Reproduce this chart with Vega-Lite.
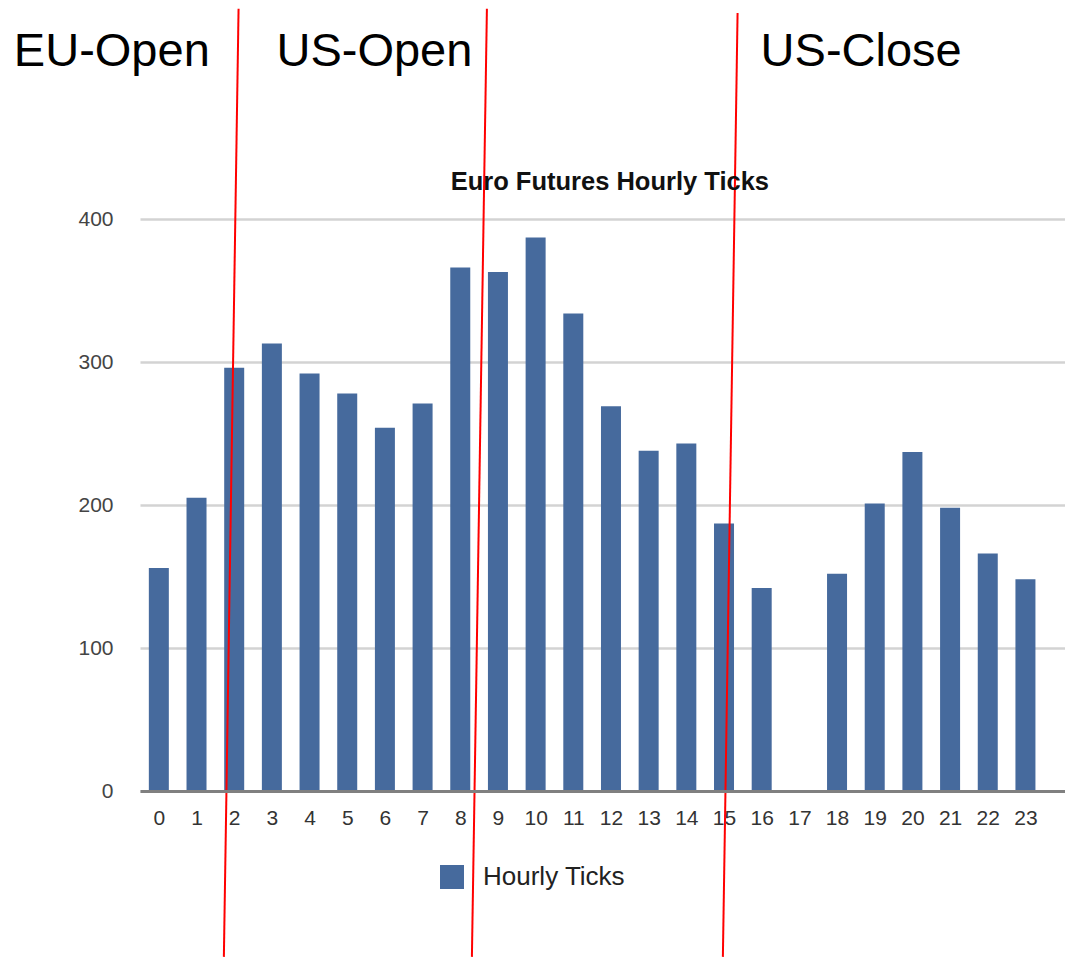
{
  "$schema": "https://vega.github.io/schema/vega-lite/v6.json",
  "width": 925,
  "height": 572,
  "autosize": {"type": "none"},
  "padding": {"left": 140, "top": 219, "right": 0, "bottom": 166},
  "background": "white",
  "config": {"view": {"stroke": null}, "font": "Liberation Sans"},
  "layer": [
    {
      "data": {
        "values": [
          {"hour": 0, "ticks": 156, "series": "Hourly Ticks"},
          {"hour": 1, "ticks": 205, "series": "Hourly Ticks"},
          {"hour": 2, "ticks": 296, "series": "Hourly Ticks"},
          {"hour": 3, "ticks": 313, "series": "Hourly Ticks"},
          {"hour": 4, "ticks": 292, "series": "Hourly Ticks"},
          {"hour": 5, "ticks": 278, "series": "Hourly Ticks"},
          {"hour": 6, "ticks": 254, "series": "Hourly Ticks"},
          {"hour": 7, "ticks": 271, "series": "Hourly Ticks"},
          {"hour": 8, "ticks": 366, "series": "Hourly Ticks"},
          {"hour": 9, "ticks": 363, "series": "Hourly Ticks"},
          {"hour": 10, "ticks": 387, "series": "Hourly Ticks"},
          {"hour": 11, "ticks": 334, "series": "Hourly Ticks"},
          {"hour": 12, "ticks": 269, "series": "Hourly Ticks"},
          {"hour": 13, "ticks": 238, "series": "Hourly Ticks"},
          {"hour": 14, "ticks": 243, "series": "Hourly Ticks"},
          {"hour": 15, "ticks": 187, "series": "Hourly Ticks"},
          {"hour": 16, "ticks": 142, "series": "Hourly Ticks"},
          {"hour": 17, "ticks": 0, "series": "Hourly Ticks"},
          {"hour": 18, "ticks": 152, "series": "Hourly Ticks"},
          {"hour": 19, "ticks": 201, "series": "Hourly Ticks"},
          {"hour": 20, "ticks": 237, "series": "Hourly Ticks"},
          {"hour": 21, "ticks": 198, "series": "Hourly Ticks"},
          {"hour": 22, "ticks": 166, "series": "Hourly Ticks"},
          {"hour": 23, "ticks": 148, "series": "Hourly Ticks"}
        ]
      },
      "mark": {"type": "bar", "size": 20},
      "encoding": {
        "x": {
          "field": "hour",
          "type": "quantitative",
          "title": null,
          "scale": {"domain": [-0.5, 24.05], "nice": false, "zero": false, "padding": 0},
          "axis": {
            "values": [0,1,2,3,4,5,6,7,8,9,10,11,12,13,14,15,16,17,18,19,20,21,22,23],
            "format": "d",
            "domain": true,
            "domainColor": "#808080",
            "domainWidth": 3,
            "ticks": false,
            "grid": false,
            "labelFontSize": 21,
            "labelFont": "Liberation Sans",
            "labelColor": "#333333",
            "labelPadding": 16,
            "labelFlush": false,
            "labelOverlap": false,
            "zindex": 1
          }
        },
        "y": {
          "field": "ticks",
          "type": "quantitative",
          "title": null,
          "scale": {"domain": [0, 400], "nice": false, "padding": 0},
          "axis": {
            "values": [0, 100, 200, 300, 400],
            "domain": false,
            "ticks": false,
            "grid": true,
            "gridColor": "#d3d3d3",
            "gridWidth": 2.5,
            "labelFontSize": 21,
            "labelFont": "Liberation Sans",
            "labelColor": "#444444",
            "labelPadding": 27
          }
        },
        "color": {
          "field": "series",
          "type": "nominal",
          "scale": {"range": ["#466a9d"]},
          "legend": {
            "orient": "none",
            "legendX": 299,
            "legendY": 645,
            "title": null,
            "symbolType": "square",
            "symbolSize": 576,
            "symbolStrokeWidth": 0,
            "symbolOpacity": 1,
            "labelFontSize": 26,
            "labelFont": "Liberation Sans",
            "labelColor": "#222222",
            "labelOffset": 18,
            "padding": 0
          }
        }
      }
    },
    {
      "data": {
        "values": [
          {"event": "EU-Open", "hourTop": 2.116, "hourBottom": 1.726, "top": 547, "bottom": -116},
          {"event": "US-Open", "hourTop": 8.707, "hourBottom": 8.309, "top": 547, "bottom": -116},
          {"event": "US-Close", "hourTop": 15.36, "hourBottom": 14.97, "top": 544, "bottom": -116}
        ]
      },
      "mark": {"type": "rule", "color": "#ff0000", "strokeWidth": 2},
      "encoding": {
        "x": {"field": "hourTop", "type": "quantitative", "title": null},
        "x2": {"field": "hourBottom"},
        "y": {"field": "top", "type": "quantitative", "title": null},
        "y2": {"field": "bottom"}
      }
    },
    {
      "data": {
        "values": [
          {"label": "EU-Open", "hour": -1.248, "level": 507},
          {"label": "US-Open", "hour": 5.721, "level": 507},
          {"label": "US-Close", "hour": 18.64, "level": 507}
        ]
      },
      "mark": {"type": "text", "fontSize": 47, "font": "Liberation Sans", "align": "center", "baseline": "alphabetic", "color": "#000000"},
      "encoding": {
        "x": {"field": "hour", "type": "quantitative", "title": null},
        "y": {"field": "level", "type": "quantitative", "title": null},
        "text": {"field": "label"}
      }
    },
    {
      "data": {
        "values": [
          {"title": "Euro Futures Hourly Ticks", "hour": 11.97, "level": 420}
        ]
      },
      "mark": {"type": "text", "fontSize": 25.5, "fontWeight": "bold", "font": "Liberation Sans", "align": "center", "baseline": "alphabetic", "color": "#111111"},
      "encoding": {
        "x": {"field": "hour", "type": "quantitative", "title": null},
        "y": {"field": "level", "type": "quantitative", "title": null},
        "text": {"field": "title"}
      }
    }
  ]
}
